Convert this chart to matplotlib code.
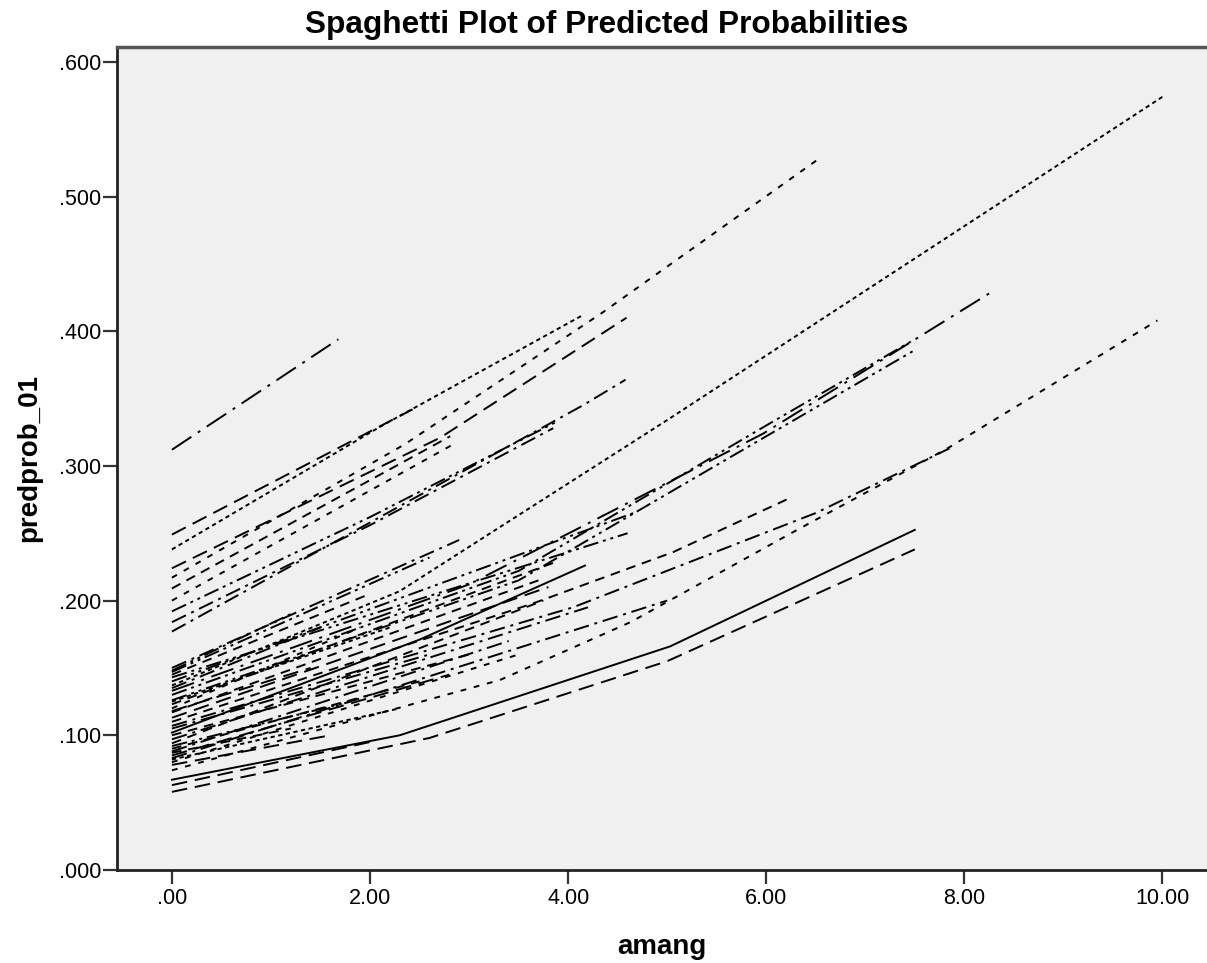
import matplotlib.pyplot as plt

# amang values (x) and predicted probabilities (y) for each case
line_x = [
    [0, 1.68],
    [0, 2.43],
    [0, 2.1, 4.15],
    [0, 2.71, 4.59],
    [0, 2.35, 4.35, 6.55],
    [0, 2.81],
    [0, 2.84],
    [0, 2.0, 3.89],
    [0, 2.0, 3.85],
    [0, 4.15, 4.58],
    [0, 2.3, 5.0, 10.0],
    [0, 3.0, 5.97, 8.25],
    [0, 3.5, 6.0, 7.5],
    [0, 3.5, 6.0, 7.5],
    [0, 3.65, 5.06, 6.22],
    [0, 4.05, 6.5, 7.85],
    [0, 2.5, 4.17],
    [0, 3.31, 4.63, 6.3, 7.83, 9.95],
    [0, 2.3, 5.03, 7.5],
    [0, 2.6, 5.0, 7.5],
    [0, 2.9],
    [0, 2.6],
    [0, 4.6],
    [0, 4.66],
    [0, 3.85],
    [0, 1.9],
    [0, 3.7],
    [0, 3.8],
    [0, 3.0],
    [0, 4.2],
    [0, 3.75],
    [0, 2.5],
    [0, 3.4],
    [0, 2.8],
    [0, 5.0],
    [0, 3.5],
    [0, 1.6],
    [0, 2.0],
    [0, 1.2],
    [0, 2.0],
    [0, 1.5],
    [0, 2.2],
    [0, 1.4],
    [0, 2.6],
    [0, 1.8],
    [0, 1.2],
    [0, 2.3],
]
line_y = [
    [0.312, 0.394],
    [0.249, 0.342],
    [0.238, 0.329, 0.412],
    [0.224, 0.321, 0.410],
    [0.217, 0.316, 0.414, 0.529],
    [0.209, 0.322],
    [0.200, 0.316],
    [0.192, 0.262, 0.333],
    [0.184, 0.256, 0.328],
    [0.177, 0.345, 0.364],
    [0.137, 0.207, 0.334, 0.574],
    [0.133, 0.212, 0.324, 0.428],
    [0.130, 0.222, 0.330, 0.394],
    [0.126, 0.215, 0.322, 0.386],
    [0.110, 0.198, 0.236, 0.2755],
    [0.107, 0.195, 0.265, 0.313],
    [0.102, 0.171, 0.226],
    [0.074, 0.141, 0.184, 0.252, 0.313, 0.408],
    [0.067, 0.100, 0.166, 0.2525],
    [0.058, 0.098, 0.155, 0.238],
    [0.150, 0.245],
    [0.147, 0.232],
    [0.143, 0.250],
    [0.140, 0.265],
    [0.123, 0.228],
    [0.120, 0.180],
    [0.117, 0.215],
    [0.113, 0.210],
    [0.100, 0.160],
    [0.097, 0.195],
    [0.094, 0.200],
    [0.090, 0.140],
    [0.088, 0.170],
    [0.085, 0.145],
    [0.083, 0.200],
    [0.080, 0.160],
    [0.078, 0.100],
    [0.063, 0.095],
    [0.148, 0.190],
    [0.145, 0.205],
    [0.135, 0.180],
    [0.125, 0.180],
    [0.118, 0.150],
    [0.105, 0.160],
    [0.092, 0.125],
    [0.087, 0.105],
    [0.082, 0.120],
]

x_ticks = [0, 2, 4, 6, 8, 10]
x_tick_labels = ['.00', '2.00', '4.00', '6.00', '8.00', '10.00']
y_ticks = [0, 0.1, 0.2, 0.3, 0.4, 0.5, 0.6]
y_tick_labels = ['.000', '.100', '.200', '.300', '.400', '.500', '.600']

# SPSS-like dash patterns
styles = {
    'solid': '-',
    'long': (0, (8, 4)),
    'dash': (0, (5, 3.5)),
    'dot': (0, (2.2, 1.8)),
    'mdash': (0, (3, 4)),
    'dd': (0, (8, 3, 1.5, 3)),
    'ddd': (0, (8, 2.5, 1.5, 2.5, 1.5, 2.5)),
    'ldd': (0, (12, 4, 1.5, 4)),
}
line_style = [
    'ldd', 'long', 'dot', 'long', 'mdash', 'dash', 'mdash', 'ddd', 'dd', 'dd',
    'dot', 'ldd', 'ddd', 'ddd', 'dash', 'dd', 'solid', 'mdash', 'solid', 'long',
    'dd', 'ddd', 'ddd', 'ddd', 'dash', 'mdash', 'dash', 'long', 'dash', 'dd',
    'dash', 'dash', 'dd', 'long', 'dd', 'mdash', 'long', 'long', 'ddd', 'dash',
    'dd', 'dot', 'long', 'dd', 'ddd', 'dash', 'dot',
]

plt.rcParams['font.family'] = ['Liberation Sans', 'DejaVu Sans']

fig = plt.figure(figsize=(12.07, 9.63), dpi=100)
ax = fig.add_axes([0.0969, 0.0966, 0.9031, 0.8546])
ax.set_facecolor('#f0f0f0')

for xs, ys, st in zip(line_x, line_y, line_style):
    ax.plot(xs, ys, color='black', linewidth=1.4, linestyle=styles[st])

ax.set_xlim(-0.555, 10.45)
ax.set_ylim(0, 0.611)

ax.set_xticks(x_ticks)
ax.set_xticklabels(x_tick_labels)
ax.set_yticks(y_ticks)
ax.set_yticklabels(y_tick_labels)
ax.tick_params(axis='both', labelsize=15.5, width=1.6, color='#333333', length=10)
ax.tick_params(axis='y', pad=1.5)
ax.tick_params(axis='x', pad=3)

for side in ['left', 'bottom']:
    ax.spines[side].set_linewidth(2)
    ax.spines[side].set_color('#222222')
ax.spines['top'].set_linewidth(2.5)
ax.spines['top'].set_color('#555555')
ax.spines['right'].set_visible(False)

fig.text(0.503, 0.974, 'Spaghetti Plot of Predicted Probabilities', fontsize=22.8,
         fontweight='bold', ha='center', va='center')
ax.set_xlabel('amang', fontsize=20, fontweight='bold', labelpad=18)
ax.set_ylabel('predprob_01', fontsize=20, fontweight='bold', labelpad=12)

fig.savefig('out.png', dpi=100)
